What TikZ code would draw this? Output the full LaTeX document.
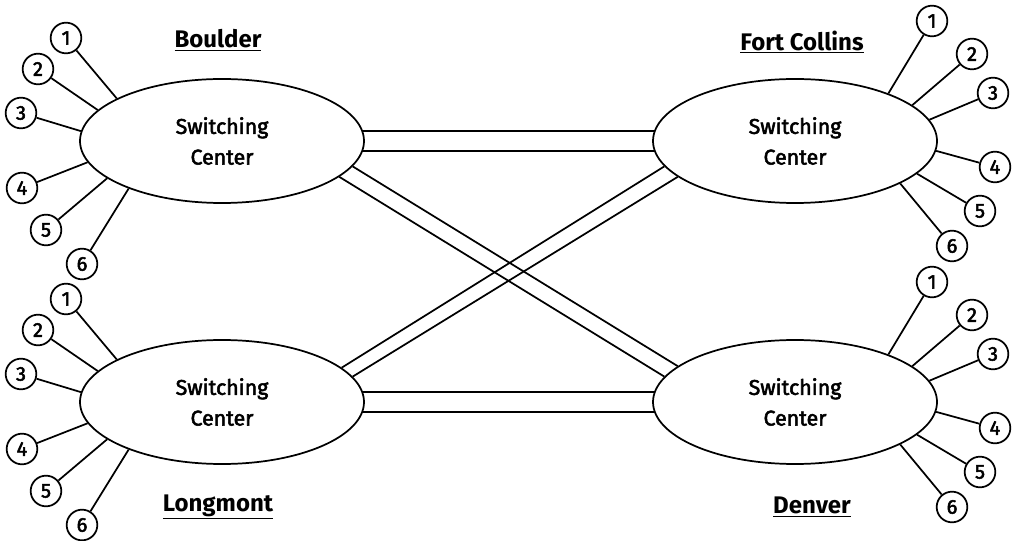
\documentclass[tikz,border=0pt]{standalone}
\usepackage{fontspec}
\setmainfont{Fira Sans}
\newfontfamily\heavyfont{Fira Sans}[FakeBold=2.5]
\usetikzlibrary{shapes.geometric}
\begin{document}
\begin{tikzpicture}[x=0.75pt,y=-0.75pt,line width=1.3pt,
  switch/.style={draw,ellipse,minimum width=213pt,minimum height=93pt,inner sep=0pt,
    align=center,font=\heavyfont\fontsize{16}{23}\selectfont},
  num/.style={draw,circle,minimum size=23pt,inner sep=0pt,font=\heavyfont\fontsize{15}{15}\selectfont},
  site/.style={font=\bfseries\fontsize{18}{18}\selectfont}]
\useasboundingbox (0,0) rectangle (1013,541);
% the four switching centers
\node[switch] (B) at (222,141) {Switching\\Center};
\node[switch] (F) at (795,141) {Switching\\Center};
\node[switch] (L) at (222,402) {Switching\\Center};
\node[switch] (D) at (795,402) {Switching\\Center};
\node[site] (Bname) at (218,40) {\underline{Boulder}};
\node[site] (Fname) at (802,42) {\underline{Fort Collins}};
\node[site] (Lname) at (218,507) {\underline{Longmont}};
\node[site] (Dname) at (812,507) {\underline{Denver}};
% trunks
\draw (B.4) -- (F.176);
\draw (B.-4) -- (F.184);
\draw (L.4) -- (D.176);
\draw (L.-4) -- (D.184);
\draw (B.-11) -- (D.163);
\draw (B.-17) -- (D.169);
\draw (L.16) -- (F.191);
\draw (L.11) -- (F.197);
% subscriber lines
\foreach \s in {B,L} {
  \foreach \n/\dx/\dy/\a in {1/-156/-103/158, 2/-184/-72/166, 3/-201/-28/176,
      4/-200/47/189, 5/-176/89/198, 6/-140/123/207} {
    \node[num] (\s\n) at ([shift={(\dx,\dy)}]\s) {\n};
    \draw (\s\n) -- (\s.\a);
  }
}
\foreach \s in {F,D} {
  \foreach \n/\dx/\dy/\a in {1/137/-120/27, 2/177/-87/17, 3/198/-48/9,
      4/200/26/-4, 5/185/70/-15, 6/157/105/-22} {
    \node[num] (\s\n) at ([shift={(\dx,\dy)}]\s) {\n};
    \draw (\s\n) -- (\s.\a);
  }
}
\end{tikzpicture}
\end{document}
